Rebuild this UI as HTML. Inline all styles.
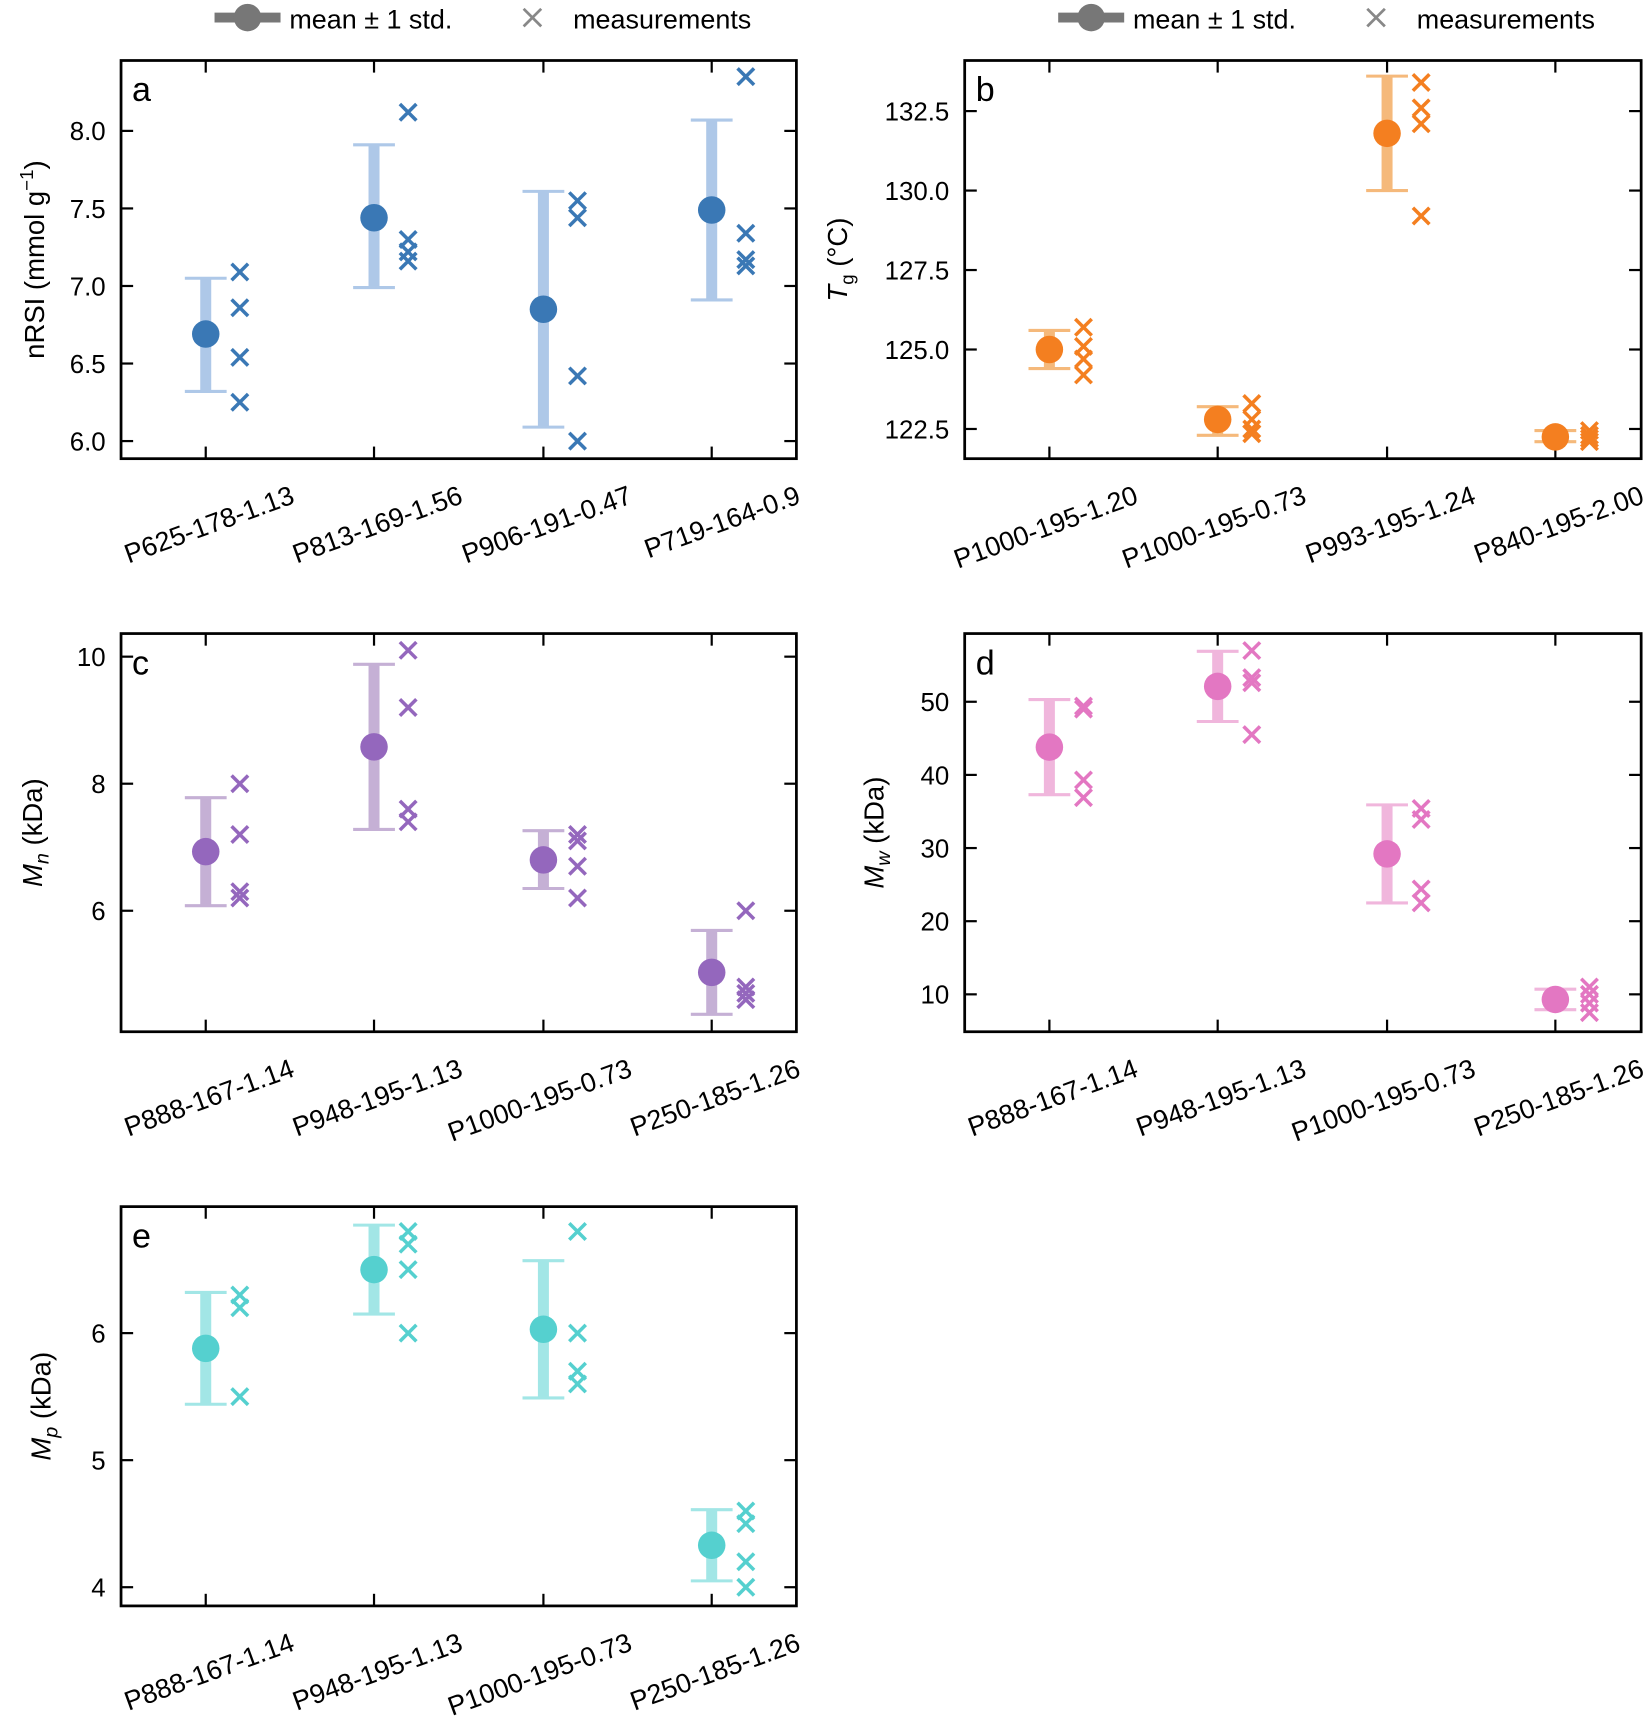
<!DOCTYPE html>
<html><head><meta charset="utf-8"><style>
html,body{margin:0;padding:0;background:#fff;}
svg{display:block;font-family:"Liberation Sans","DejaVu Sans",sans-serif;}
</style></head><body>
<svg id="s" width="1650" height="1728" viewBox="0 0 1500 1571" xmlns="http://www.w3.org/2000/svg"></svg>
<script>
const S=document.getElementById('s');let h='';
function legend(ox){
 h+=`<line x1="${ox+195}" y1="16" x2="${ox+255}" y2="16" stroke="#777" stroke-width="9"/>`;
 h+=`<circle cx="${ox+225}" cy="16" r="12.5" fill="#777"/>`;
 h+=`<text x="${ox+263}" y="26" font-size="24.5">mean ± 1 std.</text>`;
 h+=`<g stroke="#888" stroke-width="2.5"><line x1="${ox+476}" y1="8" x2="${ox+492}" y2="24"/><line x1="${ox+492}" y1="8" x2="${ox+476}" y2="24"/></g>`;
 h+=`<text x="${ox+521}" y="26" font-size="24.5">measurements</text>`;
}
legend(0);legend(767);
function panel(p){
 const {x0,y0,w,ht,letter,ticks,fmt,yv,yp,mc,ec,data,labels,ylab,ylx}=p;
 const Y=v=>yp[0]+(v-yv[0])*(yp[1]-yp[0])/(yv[1]-yv[0]);
 const xs=[77,230,384,537].map(d=>x0+d);
 h+=`<g stroke="#000" stroke-width="2">`;
 xs.forEach(x=>{h+=`<line x1="${x}" y1="${y0}" x2="${x}" y2="${y0+11}"/><line x1="${x}" y1="${y0+ht}" x2="${x}" y2="${y0+ht-11}"/>`});
 ticks.forEach(t=>{const y=Y(t);h+=`<line x1="${x0}" y1="${y}" x2="${x0+11}" y2="${y}"/><line x1="${x0+w}" y1="${y}" x2="${x0+w-11}" y2="${y}"/>`});
 h+=`</g>`;
 ticks.forEach(t=>{h+=`<text x="${x0-14}" y="${Y(t)+8.5}" font-size="23.5" text-anchor="end">${t.toFixed(fmt)}</text>`});
 data.forEach((d,i)=>{
  const x=xs[i];
  h+=`<line x1="${x}" y1="${Y(d[1])}" x2="${x}" y2="${Y(d[2])}" stroke="${ec}" stroke-width="10"/>`;
  [d[1],d[2]].forEach(v=>{h+=`<line x1="${x-19}" y1="${Y(v)}" x2="${x+19}" y2="${Y(v)}" stroke="${ec}" stroke-width="2.8"/>`});
  h+=`<circle cx="${x}" cy="${Y(d[0])}" r="12.5" fill="${mc}"/>`;
  d[3].forEach(v=>{const y=Y(v),mx=x+31;h+=`<g stroke="${mc}" stroke-width="3.2"><line x1="${mx-7.5}" y1="${y-7.5}" x2="${mx+7.5}" y2="${y+7.5}"/><line x1="${mx+7.5}" y1="${y-7.5}" x2="${mx-7.5}" y2="${y+7.5}"/></g>`});
 });
 h+=`<rect x="${x0}" y="${y0}" width="${w}" height="${ht}" fill="none" stroke="#000" stroke-width="2.5"/>`;
 h+=`<text x="${x0+10}" y="${y0+37}" font-size="31">${letter}</text>`;
 labels.forEach((l,i)=>{h+=`<text transform="translate(${xs[i]+82},${y0+ht+40}) rotate(-20)" font-size="24.5" text-anchor="end">${l}</text>`});
 h+=`<text transform="translate(${ylx},${y0+ht/2}) rotate(-90)" font-size="25" text-anchor="middle">${ylab}</text>`;
}
const L1=['P888-167-1.14','P948-195-1.13','P1000-195-0.73','P250-185-1.26'];
panel({x0:110,y0:55,w:614,ht:362,letter:'a',ticks:[6,6.5,7,7.5,8],fmt:1,yv:[6,8],yp:[401,119],mc:'#3a78b5',ec:'#aec8e8',
 data:[[6.69,6.32,7.05,[7.09,6.86,6.54,6.25]],[7.44,6.99,7.91,[8.12,7.30,7.22,7.16]],[6.85,6.09,7.61,[7.55,7.44,6.42,6.00]],[7.49,6.91,8.07,[8.35,7.34,7.17,7.13]]],
 labels:['P625-178-1.13','P813-169-1.56','P906-191-0.47','P719-164-0.9'],ylab:'nRSI (mmol g<tspan font-size="17" dy="-10">−1</tspan><tspan dy="10">)</tspan>',ylx:40});
panel({x0:877,y0:55,w:615,ht:362,letter:'b',ticks:[122.5,125,127.5,130,132.5],fmt:1,yv:[122.5,132.5],yp:[390,101],mc:'#f47f20',ec:'#f5b97b',
 data:[[125.0,124.4,125.6,[125.7,125.1,124.7,124.2]],[122.8,122.3,123.2,[123.3,122.8,122.5,122.35]],[131.8,130.0,133.6,[133.4,132.6,132.1,129.2]],[122.25,122.1,122.45,[122.45,122.3,122.2,122.1]]],
 labels:['P1000-195-1.20','P1000-195-0.73','P993-195-1.24','P840-195-2.00'],ylab:'<tspan font-style="italic">T</tspan><tspan font-size="17" dy="6">g</tspan><tspan dy="-6"> (°C)</tspan>',ylx:770});
panel({x0:110,y0:576,w:614,ht:362,letter:'c',ticks:[6,8,10],fmt:0,yv:[6,10],yp:[828,597],mc:'#9467bd',ec:'#c5b0d5',
 data:[[6.93,6.08,7.78,[8.0,7.2,6.3,6.2]],[8.58,7.28,9.88,[10.1,9.2,7.6,7.4]],[6.8,6.35,7.26,[7.2,7.1,6.7,6.2]],[5.03,4.37,5.69,[6.0,4.8,4.7,4.6]]],
 labels:L1,ylab:'<tspan font-style="italic">M<tspan font-size="18" dy="6">n</tspan></tspan><tspan dy="-6"> (kDa)</tspan>',ylx:38});
panel({x0:877,y0:576,w:615,ht:362,letter:'d',ticks:[10,20,30,40,50],fmt:0,yv:[10,50],yp:[904,638],mc:'#e377c2',ec:'#f0b6dc',
 data:[[43.8,37.3,50.3,[49.4,49.0,39.3,36.9]],[52.1,47.3,56.9,[57,53.3,52.6,45.5]],[29.2,22.5,35.9,[35.4,33.9,24.4,22.5]],[9.3,7.9,10.7,[11,10,8.8,7.5]]],
 labels:L1,ylab:'<tspan font-style="italic">M<tspan font-size="18" dy="6">w</tspan></tspan><tspan dy="-6"> (kDa)</tspan>',ylx:803});
panel({x0:110,y0:1097,w:614,ht:363,letter:'e',ticks:[4,5,6],fmt:0,yv:[4,6],yp:[1443,1212],mc:'#55d0cf',ec:'#a2e6e6',
 data:[[5.88,5.44,6.32,[6.3,6.2,5.5]],[6.5,6.15,6.85,[6.8,6.7,6.5,6.0]],[6.03,5.49,6.57,[6.8,6.0,5.7,5.6]],[4.33,4.05,4.61,[4.6,4.5,4.2,4.0]]],
 labels:L1,ylab:'<tspan font-style="italic">M<tspan font-size="18" dy="6">p</tspan></tspan><tspan dy="-6"> (kDa)</tspan>',ylx:46});
S.innerHTML=h;
</script>
</body></html>
